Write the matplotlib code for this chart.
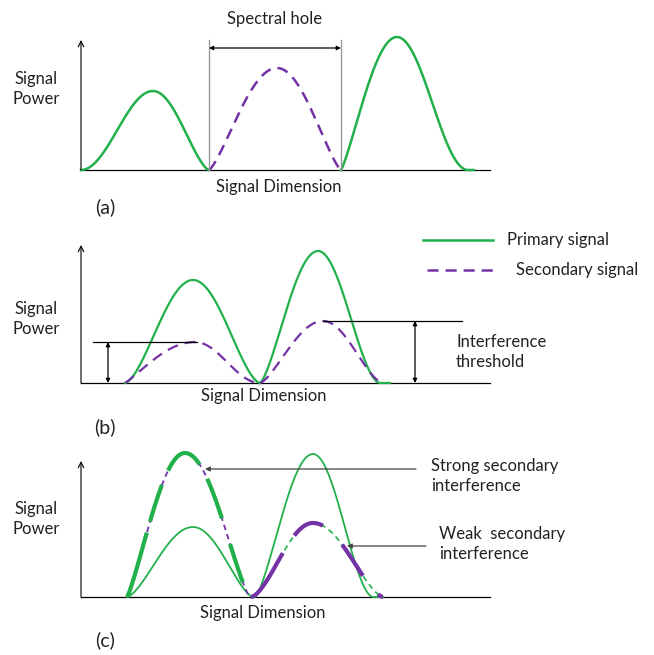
import numpy as np
import matplotlib
matplotlib.use("Agg")
import matplotlib.pyplot as plt

plt.rcParams['font.family'] = ['Lato', 'DejaVu Sans']
plt.rcParams['lines.scale_dashes'] = False

GREEN = '#22b04b'
PURPLE = '#7432a6'
TEXT = '#222222'
FS = 12

# bumps: (start, peak, end, height, left_exp, right_exp, tail)
# units are offsets from each panel's axis origin
a_green = [(0, 72, 128, 79, 2.0, 1.5, 0),
           (260, 316, 387, 133, 1.2, 2.0, 6)]
a_purple = [(128, 196, 260, 102, 1.3, 1.3, 0)]
a_hole = (128, 260)
a_hole_top = 130

b_green = [(44, 112, 179, 103, 1.6, 1.6, 0),
           (179, 237, 299, 132, 1.4, 1.8, 10)]
b_purple = [(44, 114, 179, 41, 1.1, 2.0, 0),
            (179, 242, 302, 62, 1.4, 1.6, 0)]
b_thresh = [(12, 116, 41, 27), (242, 381, 62, 334)]   # x0, x1, level, arrow x

c_strong = (46, 104, 169, 144, 1.2, 1.3, 0)
c_strong_on = [(46, 66), (69, 81), (87, 119), (126, 141), (149, 162)]
c_green = [(46, 112, 172, 70, 1.5, 1.5, 0),
           (174, 232, 292, 143, 1.4, 1.8, 10)]
c_weak = (170, 232, 302, 74, 1.6, 1.5, 0)
c_weak_on = [(170, 202), (213, 242), (261, 282), (297, 304)]

AXIS_END = 409


def bump(x0, xp, x1, h, pl, pr, tail, n=200):
    xl = np.linspace(x0, xp, n)
    yl = h * np.sin(np.pi / 2 * (xl - x0) / (xp - x0)) ** pl
    xr = np.linspace(xp, x1, n)
    yr = h * np.sin(np.pi / 2 * (x1 - xr) / (x1 - xp)) ** pr
    x = np.concatenate([xl, xr])
    y = np.concatenate([yl, yr])
    if tail:
        x = np.append(x, x1 + tail)
        y = np.append(y, 0)
    return x, y


def pieces(x, y, spans):
    for a, b in spans:
        m = (x >= a) & (x <= b)
        yield x[m], y[m]


def panel(top, origin, bottom, ytop):
    ax = fig.add_axes([0, 1 - bottom / 655, 1, (bottom - top) / 655])
    ax.set_xlim(-81, 573)
    ax.set_ylim(origin - bottom, origin - top)
    ax.axis('off')
    ax.plot([0, AXIS_END], [0, 0], color='black', lw=0.9, clip_on=False)
    ax.annotate('', xy=(0, ytop), xytext=(0, 0),
                arrowprops=dict(arrowstyle='->', lw=0.8, color='black',
                                mutation_scale=10, shrinkA=0, shrinkB=0))
    return ax


def dbl_arrow(ax, p0, p1):
    ax.annotate('', xy=p1, xytext=p0,
                arrowprops=dict(arrowstyle='<|-|>', lw=0.9, color='black',
                                mutation_scale=6, shrinkA=0, shrinkB=0))


def labels(ax, ypow, ydim, xdim, ylab, tag):
    ax.text(-45, ypow, 'Signal\nPower', ha='center', va='center',
            fontsize=FS, color=TEXT, linespacing=1.35)
    ax.text(xdim, ydim, 'Signal Dimension', ha='center', va='center',
            fontsize=FS, color=TEXT)
    ax.text(24, ylab, tag, ha='center', va='center', fontsize=14, color=TEXT)


fig = plt.figure(figsize=(6.54, 6.55), dpi=100)

# (a)
ax = panel(0, 170, 218, 130)
for bp in a_green:
    ax.plot(*bump(*bp), color=GREEN, lw=1.8)
for bp in a_purple:
    ax.plot(*bump(*bp), color=PURPLE, lw=1.8, dashes=(8, 5))
for xv in a_hole:
    ax.plot([xv, xv], [0, a_hole_top], color='#999999', lw=1.0)
dbl_arrow(ax, (a_hole[0], 122), (a_hole[1], 122))
ax.text(sum(a_hole) / 2, 151, 'Spectral hole', ha='center', va='center',
        fontsize=FS, color=TEXT)
labels(ax, 81, -17, 198, -37, '(a)')

# (b)
ax = panel(218, 383, 438, 138)
for bp in b_green:
    ax.plot(*bump(*bp), color=GREEN, lw=1.6)
for bp in b_purple:
    ax.plot(*bump(*bp), color=PURPLE, lw=1.6, dashes=(8, 5))
for x0, x1, lvl, xa in b_thresh:
    ax.plot([x0, x1], [lvl, lvl], color='black', lw=0.9)
    dbl_arrow(ax, (xa, 0), (xa, lvl))
ax.text(375, 31, 'Interference\nthreshold', ha='left', va='center',
        fontsize=FS, color=TEXT, linespacing=1.35)
ax.plot([342, 412], [143, 143], color=GREEN, lw=1.8)
ax.text(426, 143, 'Primary signal', ha='left', va='center', fontsize=FS,
        color=TEXT)
ax.plot([346, 418], [113, 113], color=PURPLE, lw=1.8, dashes=(8, 5))
ax.text(435, 113, 'Secondary signal', ha='left', va='center', fontsize=FS,
        color=TEXT)
labels(ax, 64, -13, 183, -44, '(b)')

# (c)
ax = panel(438, 597, 655, 136)
for bp in c_green:
    ax.plot(*bump(*bp), color=GREEN, lw=1.3)
x, y = bump(*c_strong)
ax.plot(x, y, color=PURPLE, lw=1.3, dashes=(4, 3))
for xs, ys in pieces(x, y, c_strong_on):
    ax.plot(xs, ys, color=GREEN, lw=3.0, solid_capstyle='butt')
x, y = bump(*c_weak)
ax.plot(x, y, color=GREEN, lw=1.2, dashes=(4, 3))
for xs, ys in pieces(x, y, c_weak_on):
    ax.plot(xs, ys, color=PURPLE, lw=3.0, solid_capstyle='butt')
ax.annotate('', xy=(124, 128), xytext=(335, 128),
            arrowprops=dict(arrowstyle='-|>', lw=0.9, color='#444444',
                            mutation_scale=7, shrinkA=0, shrinkB=0))
ax.annotate('', xy=(266, 51), xytext=(345, 51),
            arrowprops=dict(arrowstyle='-|>', lw=0.9, color='#444444',
                            mutation_scale=7, shrinkA=0, shrinkB=0))
ax.text(350, 121, 'Strong secondary\ninterference', ha='left', va='center',
        fontsize=FS, color=TEXT, linespacing=1.35)
ax.text(358, 53, 'Weak  secondary\ninterference', ha='left', va='center',
        fontsize=FS, color=TEXT, linespacing=1.35)
labels(ax, 78, -16, 182, -43, '(c)')

fig.savefig('out.png', dpi=100, facecolor='white')
